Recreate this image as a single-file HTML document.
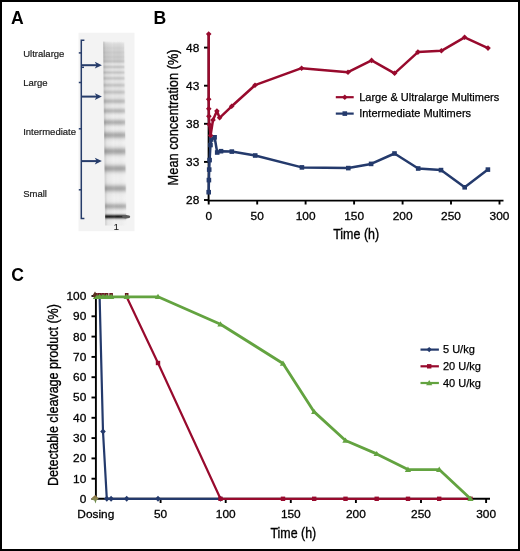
<!DOCTYPE html>
<html><head><meta charset="utf-8"><style>
html,body{margin:0;padding:0;background:#fff;}
body{width:520px;height:551px;overflow:hidden;font-family:"Liberation Sans",sans-serif;}
svg{display:block;will-change:transform;}
</style></head><body>
<svg width="520" height="551" viewBox="0 0 520 551">
<rect x="0" y="0" width="520" height="551" fill="#fff"/>
<text x="11" y="23.8" font-family="Liberation Sans, sans-serif" font-weight="bold" font-size="17.6">A</text>
<rect x="78.5" y="32.7" width="56" height="198.5" fill="#f3f3f3"/>
<defs><linearGradient id="lane" gradientUnits="userSpaceOnUse" x1="0" y1="41.5" x2="0" y2="226">
<stop offset="0.0000" stop-color="#f0f0f0"/>
<stop offset="0.0027" stop-color="#ececec"/>
<stop offset="0.0054" stop-color="#e8e8e8"/>
<stop offset="0.0081" stop-color="#e4e4e4"/>
<stop offset="0.0108" stop-color="#e0e0e0"/>
<stop offset="0.0136" stop-color="#dcdcdc"/>
<stop offset="0.0163" stop-color="#dbdbdb"/>
<stop offset="0.0190" stop-color="#dadada"/>
<stop offset="0.0217" stop-color="#d9d9d9"/>
<stop offset="0.0244" stop-color="#d8d8d8"/>
<stop offset="0.0271" stop-color="#d6d6d6"/>
<stop offset="0.0298" stop-color="#d4d4d4"/>
<stop offset="0.0325" stop-color="#d2d2d2"/>
<stop offset="0.0352" stop-color="#d1d1d1"/>
<stop offset="0.0379" stop-color="#d1d1d1"/>
<stop offset="0.0407" stop-color="#d1d1d1"/>
<stop offset="0.0434" stop-color="#d2d2d2"/>
<stop offset="0.0461" stop-color="#d2d2d2"/>
<stop offset="0.0488" stop-color="#d1d1d1"/>
<stop offset="0.0515" stop-color="#cfcfcf"/>
<stop offset="0.0542" stop-color="#cdcdcd"/>
<stop offset="0.0569" stop-color="#cbcbcb"/>
<stop offset="0.0596" stop-color="#cacaca"/>
<stop offset="0.0623" stop-color="#cbcbcb"/>
<stop offset="0.0650" stop-color="#cccccc"/>
<stop offset="0.0678" stop-color="#cecece"/>
<stop offset="0.0705" stop-color="#cecece"/>
<stop offset="0.0732" stop-color="#cecece"/>
<stop offset="0.0759" stop-color="#cdcdcd"/>
<stop offset="0.0786" stop-color="#cacaca"/>
<stop offset="0.0813" stop-color="#c9c9c9"/>
<stop offset="0.0840" stop-color="#c8c8c8"/>
<stop offset="0.0867" stop-color="#c9c9c9"/>
<stop offset="0.0894" stop-color="#cacaca"/>
<stop offset="0.0921" stop-color="#cccccc"/>
<stop offset="0.0949" stop-color="#cccccc"/>
<stop offset="0.0976" stop-color="#cbcbcb"/>
<stop offset="0.1003" stop-color="#c7c7c7"/>
<stop offset="0.1030" stop-color="#c5c5c5"/>
<stop offset="0.1057" stop-color="#c3c3c3"/>
<stop offset="0.1084" stop-color="#c3c3c3"/>
<stop offset="0.1111" stop-color="#c8c8c8"/>
<stop offset="0.1138" stop-color="#cfcfcf"/>
<stop offset="0.1165" stop-color="#d7d7d7"/>
<stop offset="0.1192" stop-color="#dedede"/>
<stop offset="0.1220" stop-color="#e2e2e2"/>
<stop offset="0.1247" stop-color="#e2e2e2"/>
<stop offset="0.1274" stop-color="#dedede"/>
<stop offset="0.1301" stop-color="#d8d8d8"/>
<stop offset="0.1328" stop-color="#d1d1d1"/>
<stop offset="0.1355" stop-color="#cacaca"/>
<stop offset="0.1382" stop-color="#c8c8c8"/>
<stop offset="0.1409" stop-color="#cacaca"/>
<stop offset="0.1436" stop-color="#d1d1d1"/>
<stop offset="0.1463" stop-color="#d8d8d8"/>
<stop offset="0.1491" stop-color="#dedede"/>
<stop offset="0.1518" stop-color="#e1e1e1"/>
<stop offset="0.1545" stop-color="#e1e1e1"/>
<stop offset="0.1572" stop-color="#dedede"/>
<stop offset="0.1599" stop-color="#d8d8d8"/>
<stop offset="0.1626" stop-color="#d1d1d1"/>
<stop offset="0.1653" stop-color="#cacaca"/>
<stop offset="0.1680" stop-color="#c8c8c8"/>
<stop offset="0.1707" stop-color="#cacaca"/>
<stop offset="0.1734" stop-color="#d1d1d1"/>
<stop offset="0.1762" stop-color="#d8d8d8"/>
<stop offset="0.1789" stop-color="#dedede"/>
<stop offset="0.1816" stop-color="#e1e1e1"/>
<stop offset="0.1843" stop-color="#e2e2e2"/>
<stop offset="0.1870" stop-color="#dfdfdf"/>
<stop offset="0.1897" stop-color="#dadada"/>
<stop offset="0.1924" stop-color="#d4d4d4"/>
<stop offset="0.1951" stop-color="#cdcdcd"/>
<stop offset="0.1978" stop-color="#c9c9c9"/>
<stop offset="0.2005" stop-color="#c8c8c8"/>
<stop offset="0.2033" stop-color="#cccccc"/>
<stop offset="0.2060" stop-color="#d2d2d2"/>
<stop offset="0.2087" stop-color="#d9d9d9"/>
<stop offset="0.2114" stop-color="#dfdfdf"/>
<stop offset="0.2141" stop-color="#e2e2e2"/>
<stop offset="0.2168" stop-color="#e4e4e4"/>
<stop offset="0.2195" stop-color="#e3e3e3"/>
<stop offset="0.2222" stop-color="#e1e1e1"/>
<stop offset="0.2249" stop-color="#dddddd"/>
<stop offset="0.2276" stop-color="#d7d7d7"/>
<stop offset="0.2304" stop-color="#d0d0d0"/>
<stop offset="0.2331" stop-color="#cacaca"/>
<stop offset="0.2358" stop-color="#c6c6c6"/>
<stop offset="0.2385" stop-color="#c7c7c7"/>
<stop offset="0.2412" stop-color="#cbcbcb"/>
<stop offset="0.2439" stop-color="#d1d1d1"/>
<stop offset="0.2466" stop-color="#d8d8d8"/>
<stop offset="0.2493" stop-color="#dddddd"/>
<stop offset="0.2520" stop-color="#e1e1e1"/>
<stop offset="0.2547" stop-color="#e2e2e2"/>
<stop offset="0.2575" stop-color="#e2e2e2"/>
<stop offset="0.2602" stop-color="#dfdfdf"/>
<stop offset="0.2629" stop-color="#dadada"/>
<stop offset="0.2656" stop-color="#d4d4d4"/>
<stop offset="0.2683" stop-color="#cdcdcd"/>
<stop offset="0.2710" stop-color="#c8c8c8"/>
<stop offset="0.2737" stop-color="#c4c4c4"/>
<stop offset="0.2764" stop-color="#c5c5c5"/>
<stop offset="0.2791" stop-color="#c9c9c9"/>
<stop offset="0.2818" stop-color="#cfcfcf"/>
<stop offset="0.2846" stop-color="#d5d5d5"/>
<stop offset="0.2873" stop-color="#dbdbdb"/>
<stop offset="0.2900" stop-color="#e0e0e0"/>
<stop offset="0.2927" stop-color="#e3e3e3"/>
<stop offset="0.2954" stop-color="#e4e4e4"/>
<stop offset="0.2981" stop-color="#e4e4e4"/>
<stop offset="0.3008" stop-color="#e3e3e3"/>
<stop offset="0.3035" stop-color="#e1e1e1"/>
<stop offset="0.3062" stop-color="#dedede"/>
<stop offset="0.3089" stop-color="#d9d9d9"/>
<stop offset="0.3117" stop-color="#d3d3d3"/>
<stop offset="0.3144" stop-color="#cbcbcb"/>
<stop offset="0.3171" stop-color="#c4c4c4"/>
<stop offset="0.3198" stop-color="#bfbfbf"/>
<stop offset="0.3225" stop-color="#bcbcbc"/>
<stop offset="0.3252" stop-color="#bcbcbc"/>
<stop offset="0.3279" stop-color="#bfbfbf"/>
<stop offset="0.3306" stop-color="#c5c5c5"/>
<stop offset="0.3333" stop-color="#cdcdcd"/>
<stop offset="0.3360" stop-color="#d5d5d5"/>
<stop offset="0.3388" stop-color="#dcdcdc"/>
<stop offset="0.3415" stop-color="#e1e1e1"/>
<stop offset="0.3442" stop-color="#e5e5e5"/>
<stop offset="0.3469" stop-color="#e7e7e7"/>
<stop offset="0.3496" stop-color="#e8e8e8"/>
<stop offset="0.3523" stop-color="#e7e7e7"/>
<stop offset="0.3550" stop-color="#e5e5e5"/>
<stop offset="0.3577" stop-color="#e1e1e1"/>
<stop offset="0.3604" stop-color="#dbdbdb"/>
<stop offset="0.3631" stop-color="#d4d4d4"/>
<stop offset="0.3659" stop-color="#cdcdcd"/>
<stop offset="0.3686" stop-color="#c5c5c5"/>
<stop offset="0.3713" stop-color="#bfbfbf"/>
<stop offset="0.3740" stop-color="#bbbbbb"/>
<stop offset="0.3767" stop-color="#bababa"/>
<stop offset="0.3794" stop-color="#bcbcbc"/>
<stop offset="0.3821" stop-color="#c2c2c2"/>
<stop offset="0.3848" stop-color="#c9c9c9"/>
<stop offset="0.3875" stop-color="#d1d1d1"/>
<stop offset="0.3902" stop-color="#d9d9d9"/>
<stop offset="0.3930" stop-color="#e0e0e0"/>
<stop offset="0.3957" stop-color="#e5e5e5"/>
<stop offset="0.3984" stop-color="#e9e9e9"/>
<stop offset="0.4011" stop-color="#ececec"/>
<stop offset="0.4038" stop-color="#ededed"/>
<stop offset="0.4065" stop-color="#ededed"/>
<stop offset="0.4092" stop-color="#ececec"/>
<stop offset="0.4119" stop-color="#eaeaea"/>
<stop offset="0.4146" stop-color="#e7e7e7"/>
<stop offset="0.4173" stop-color="#e2e2e2"/>
<stop offset="0.4201" stop-color="#dcdcdc"/>
<stop offset="0.4228" stop-color="#d4d4d4"/>
<stop offset="0.4255" stop-color="#cccccc"/>
<stop offset="0.4282" stop-color="#c4c4c4"/>
<stop offset="0.4309" stop-color="#bcbcbc"/>
<stop offset="0.4336" stop-color="#b6b6b6"/>
<stop offset="0.4363" stop-color="#b3b3b3"/>
<stop offset="0.4390" stop-color="#b2b2b2"/>
<stop offset="0.4417" stop-color="#b5b5b5"/>
<stop offset="0.4444" stop-color="#bbbbbb"/>
<stop offset="0.4472" stop-color="#c2c2c2"/>
<stop offset="0.4499" stop-color="#cacaca"/>
<stop offset="0.4526" stop-color="#d3d3d3"/>
<stop offset="0.4553" stop-color="#dadada"/>
<stop offset="0.4580" stop-color="#e1e1e1"/>
<stop offset="0.4607" stop-color="#e6e6e6"/>
<stop offset="0.4634" stop-color="#e9e9e9"/>
<stop offset="0.4661" stop-color="#ececec"/>
<stop offset="0.4688" stop-color="#ededed"/>
<stop offset="0.4715" stop-color="#ededed"/>
<stop offset="0.4743" stop-color="#ececec"/>
<stop offset="0.4770" stop-color="#eaeaea"/>
<stop offset="0.4797" stop-color="#e7e7e7"/>
<stop offset="0.4824" stop-color="#e3e3e3"/>
<stop offset="0.4851" stop-color="#dedede"/>
<stop offset="0.4878" stop-color="#d8d8d8"/>
<stop offset="0.4905" stop-color="#d0d0d0"/>
<stop offset="0.4932" stop-color="#c8c8c8"/>
<stop offset="0.4959" stop-color="#c0c0c0"/>
<stop offset="0.4986" stop-color="#b9b9b9"/>
<stop offset="0.5014" stop-color="#b2b2b2"/>
<stop offset="0.5041" stop-color="#aeaeae"/>
<stop offset="0.5068" stop-color="#acacac"/>
<stop offset="0.5095" stop-color="#adadad"/>
<stop offset="0.5122" stop-color="#b0b0b0"/>
<stop offset="0.5149" stop-color="#b6b6b6"/>
<stop offset="0.5176" stop-color="#bdbdbd"/>
<stop offset="0.5203" stop-color="#c5c5c5"/>
<stop offset="0.5230" stop-color="#cdcdcd"/>
<stop offset="0.5257" stop-color="#d5d5d5"/>
<stop offset="0.5285" stop-color="#dcdcdc"/>
<stop offset="0.5312" stop-color="#e2e2e2"/>
<stop offset="0.5339" stop-color="#e6e6e6"/>
<stop offset="0.5366" stop-color="#e9e9e9"/>
<stop offset="0.5393" stop-color="#ececec"/>
<stop offset="0.5420" stop-color="#ededed"/>
<stop offset="0.5447" stop-color="#eeeeee"/>
<stop offset="0.5474" stop-color="#efefef"/>
<stop offset="0.5501" stop-color="#efefef"/>
<stop offset="0.5528" stop-color="#efefef"/>
<stop offset="0.5556" stop-color="#eeeeee"/>
<stop offset="0.5583" stop-color="#ededed"/>
<stop offset="0.5610" stop-color="#ebebeb"/>
<stop offset="0.5637" stop-color="#e9e9e9"/>
<stop offset="0.5664" stop-color="#e6e6e6"/>
<stop offset="0.5691" stop-color="#e1e1e1"/>
<stop offset="0.5718" stop-color="#dcdcdc"/>
<stop offset="0.5745" stop-color="#d5d5d5"/>
<stop offset="0.5772" stop-color="#cecece"/>
<stop offset="0.5799" stop-color="#c6c6c6"/>
<stop offset="0.5827" stop-color="#bebebe"/>
<stop offset="0.5854" stop-color="#b6b6b6"/>
<stop offset="0.5881" stop-color="#b0b0b0"/>
<stop offset="0.5908" stop-color="#ababab"/>
<stop offset="0.5935" stop-color="#a8a8a8"/>
<stop offset="0.5962" stop-color="#a8a8a8"/>
<stop offset="0.5989" stop-color="#aaaaaa"/>
<stop offset="0.6016" stop-color="#afafaf"/>
<stop offset="0.6043" stop-color="#b5b5b5"/>
<stop offset="0.6070" stop-color="#bcbcbc"/>
<stop offset="0.6098" stop-color="#c4c4c4"/>
<stop offset="0.6125" stop-color="#cccccc"/>
<stop offset="0.6152" stop-color="#d4d4d4"/>
<stop offset="0.6179" stop-color="#dbdbdb"/>
<stop offset="0.6206" stop-color="#e0e0e0"/>
<stop offset="0.6233" stop-color="#e5e5e5"/>
<stop offset="0.6260" stop-color="#e8e8e8"/>
<stop offset="0.6287" stop-color="#ebebeb"/>
<stop offset="0.6314" stop-color="#ededed"/>
<stop offset="0.6341" stop-color="#eeeeee"/>
<stop offset="0.6369" stop-color="#efefef"/>
<stop offset="0.6396" stop-color="#efefef"/>
<stop offset="0.6423" stop-color="#efefef"/>
<stop offset="0.6450" stop-color="#efefef"/>
<stop offset="0.6477" stop-color="#eeeeee"/>
<stop offset="0.6504" stop-color="#ededed"/>
<stop offset="0.6531" stop-color="#ececec"/>
<stop offset="0.6558" stop-color="#eaeaea"/>
<stop offset="0.6585" stop-color="#e7e7e7"/>
<stop offset="0.6612" stop-color="#e3e3e3"/>
<stop offset="0.6640" stop-color="#dedede"/>
<stop offset="0.6667" stop-color="#d8d8d8"/>
<stop offset="0.6694" stop-color="#d1d1d1"/>
<stop offset="0.6721" stop-color="#c9c9c9"/>
<stop offset="0.6748" stop-color="#c1c1c1"/>
<stop offset="0.6775" stop-color="#b9b9b9"/>
<stop offset="0.6802" stop-color="#b2b2b2"/>
<stop offset="0.6829" stop-color="#adadad"/>
<stop offset="0.6856" stop-color="#a9a9a9"/>
<stop offset="0.6883" stop-color="#a8a8a8"/>
<stop offset="0.6911" stop-color="#a9a9a9"/>
<stop offset="0.6938" stop-color="#adadad"/>
<stop offset="0.6965" stop-color="#b2b2b2"/>
<stop offset="0.6992" stop-color="#b9b9b9"/>
<stop offset="0.7019" stop-color="#c1c1c1"/>
<stop offset="0.7046" stop-color="#c9c9c9"/>
<stop offset="0.7073" stop-color="#d1d1d1"/>
<stop offset="0.7100" stop-color="#d8d8d8"/>
<stop offset="0.7127" stop-color="#dedede"/>
<stop offset="0.7154" stop-color="#e3e3e3"/>
<stop offset="0.7182" stop-color="#e7e7e7"/>
<stop offset="0.7209" stop-color="#eaeaea"/>
<stop offset="0.7236" stop-color="#ececec"/>
<stop offset="0.7263" stop-color="#eeeeee"/>
<stop offset="0.7290" stop-color="#eeeeee"/>
<stop offset="0.7317" stop-color="#efefef"/>
<stop offset="0.7344" stop-color="#efefef"/>
<stop offset="0.7371" stop-color="#f0f0f0"/>
<stop offset="0.7398" stop-color="#f0f0f0"/>
<stop offset="0.7425" stop-color="#f0f0f0"/>
<stop offset="0.7453" stop-color="#f0f0f0"/>
<stop offset="0.7480" stop-color="#f0f0f0"/>
<stop offset="0.7507" stop-color="#f0f0f0"/>
<stop offset="0.7534" stop-color="#efefef"/>
<stop offset="0.7561" stop-color="#efefef"/>
<stop offset="0.7588" stop-color="#eeeeee"/>
<stop offset="0.7615" stop-color="#ededed"/>
<stop offset="0.7642" stop-color="#ebebeb"/>
<stop offset="0.7669" stop-color="#e8e8e8"/>
<stop offset="0.7696" stop-color="#e4e4e4"/>
<stop offset="0.7724" stop-color="#dfdfdf"/>
<stop offset="0.7751" stop-color="#d9d9d9"/>
<stop offset="0.7778" stop-color="#d2d2d2"/>
<stop offset="0.7805" stop-color="#cacaca"/>
<stop offset="0.7832" stop-color="#c2c2c2"/>
<stop offset="0.7859" stop-color="#bababa"/>
<stop offset="0.7886" stop-color="#b3b3b3"/>
<stop offset="0.7913" stop-color="#aeaeae"/>
<stop offset="0.7940" stop-color="#ababab"/>
<stop offset="0.7967" stop-color="#aaaaaa"/>
<stop offset="0.7995" stop-color="#acacac"/>
<stop offset="0.8022" stop-color="#b0b0b0"/>
<stop offset="0.8049" stop-color="#b6b6b6"/>
<stop offset="0.8076" stop-color="#bdbdbd"/>
<stop offset="0.8103" stop-color="#c6c6c6"/>
<stop offset="0.8130" stop-color="#cecece"/>
<stop offset="0.8157" stop-color="#d5d5d5"/>
<stop offset="0.8184" stop-color="#dcdcdc"/>
<stop offset="0.8211" stop-color="#e1e1e1"/>
<stop offset="0.8238" stop-color="#e6e6e6"/>
<stop offset="0.8266" stop-color="#e9e9e9"/>
<stop offset="0.8293" stop-color="#ececec"/>
<stop offset="0.8320" stop-color="#ededed"/>
<stop offset="0.8347" stop-color="#eeeeee"/>
<stop offset="0.8374" stop-color="#efefef"/>
<stop offset="0.8401" stop-color="#efefef"/>
<stop offset="0.8428" stop-color="#f0f0f0"/>
<stop offset="0.8455" stop-color="#f0f0f0"/>
<stop offset="0.8482" stop-color="#f0f0f0"/>
<stop offset="0.8509" stop-color="#f0f0f0"/>
<stop offset="0.8537" stop-color="#f0f0f0"/>
<stop offset="0.8564" stop-color="#efefef"/>
<stop offset="0.8591" stop-color="#efefef"/>
<stop offset="0.8618" stop-color="#eeeeee"/>
<stop offset="0.8645" stop-color="#ececec"/>
<stop offset="0.8672" stop-color="#eaeaea"/>
<stop offset="0.8699" stop-color="#e7e7e7"/>
<stop offset="0.8726" stop-color="#e2e2e2"/>
<stop offset="0.8753" stop-color="#dbdbdb"/>
<stop offset="0.8780" stop-color="#d4d4d4"/>
<stop offset="0.8808" stop-color="#cbcbcb"/>
<stop offset="0.8835" stop-color="#c2c2c2"/>
<stop offset="0.8862" stop-color="#bababa"/>
<stop offset="0.8889" stop-color="#b4b4b4"/>
<stop offset="0.8916" stop-color="#b1b1b1"/>
<stop offset="0.8943" stop-color="#b0b0b0"/>
<stop offset="0.8970" stop-color="#b3b3b3"/>
<stop offset="0.8997" stop-color="#b9b9b9"/>
<stop offset="0.9024" stop-color="#c1c1c1"/>
<stop offset="0.9051" stop-color="#c9c9c9"/>
<stop offset="0.9079" stop-color="#d2d2d2"/>
<stop offset="0.9106" stop-color="#dadada"/>
<stop offset="0.9133" stop-color="#e0e0e0"/>
<stop offset="0.9160" stop-color="#e6e6e6"/>
<stop offset="0.9187" stop-color="#e9e9e9"/>
<stop offset="0.9214" stop-color="#ececec"/>
<stop offset="0.9241" stop-color="#ececec"/>
<stop offset="0.9268" stop-color="#ebebeb"/>
<stop offset="0.9295" stop-color="#e6e6e6"/>
<stop offset="0.9322" stop-color="#dbdbdb"/>
<stop offset="0.9350" stop-color="#c7c7c7"/>
<stop offset="0.9377" stop-color="#a8a8a8"/>
<stop offset="0.9404" stop-color="#808080"/>
<stop offset="0.9431" stop-color="#565656"/>
<stop offset="0.9458" stop-color="#343434"/>
<stop offset="0.9485" stop-color="#232323"/>
<stop offset="0.9512" stop-color="#2b2b2b"/>
<stop offset="0.9539" stop-color="#474747"/>
<stop offset="0.9566" stop-color="#6f6f6f"/>
<stop offset="0.9593" stop-color="#999999"/>
<stop offset="0.9621" stop-color="#bcbcbc"/>
<stop offset="0.9648" stop-color="#d4d4d4"/>
<stop offset="0.9675" stop-color="#e3e3e3"/>
<stop offset="0.9702" stop-color="#eaeaea"/>
<stop offset="0.9729" stop-color="#eeeeee"/>
<stop offset="0.9756" stop-color="#efefef"/>
<stop offset="0.9783" stop-color="#f0f0f0"/>
<stop offset="0.9810" stop-color="#f0f0f0"/>
<stop offset="0.9837" stop-color="#f0f0f0"/>
<stop offset="0.9864" stop-color="#f0f0f0"/>
<stop offset="0.9892" stop-color="#f0f0f0"/>
<stop offset="0.9919" stop-color="#f0f0f0"/>
<stop offset="0.9946" stop-color="#f0f0f0"/>
<stop offset="0.9973" stop-color="#f0f0f0"/>
<stop offset="1.0000" stop-color="#f0f0f0"/>
</linearGradient>
<linearGradient id="laneh" x1="0" y1="0" x2="1" y2="0"><stop offset="0" stop-color="#000" stop-opacity="0.16"/><stop offset="0.12" stop-color="#000" stop-opacity="0.04"/><stop offset="0.45" stop-color="#fff" stop-opacity="0.05"/><stop offset="0.6" stop-color="#000" stop-opacity="0.0"/><stop offset="0.9" stop-color="#fff" stop-opacity="0.05"/><stop offset="1" stop-color="#fff" stop-opacity="0.15"/></linearGradient>
<filter id="blur1" x="-20%" y="-5%" width="140%" height="110%"><feGaussianBlur stdDeviation="0.7 0.3"/></filter>
</defs>
<g filter="url(#blur1)" transform="matrix(1 0 0.0114 1 -0.473 0)"><rect x="103.2" y="41.5" width="21" height="184" fill="url(#lane)"/><rect x="103.2" y="41.5" width="21" height="184" fill="url(#laneh)"/></g>
<ellipse cx="126.2" cy="216.7" rx="4" ry="1.7" fill="#5a5a5a" filter="url(#blur1)"/>
<g stroke="#263c6a" stroke-width="1.5" fill="none">
<path d="M84.4 40.3 H81.3 V218.5 H84.4"/>
<path d="M81.3 67.3 H84"/>
<path d="M78.8 52.9 H81.3"/>
<path d="M78.8 82.5 H81.3"/>
<path d="M78.8 128.8 H81.3"/>
<path d="M78.8 189.8 H81.3"/>
</g>
<path d="M81.3 65.2 H98" stroke="#263c6a" stroke-width="2"/>
<path d="M101.9 65.2 L94.8 61.800000000000004 L96.6 65.2 L94.8 68.60000000000001 Z" fill="#263c6a"/>
<path d="M81.3 96.6 H98" stroke="#263c6a" stroke-width="2"/>
<path d="M101.9 96.6 L94.8 93.19999999999999 L96.6 96.6 L94.8 100.0 Z" fill="#263c6a"/>
<path d="M81.3 161.1 H98" stroke="#263c6a" stroke-width="2"/>
<path d="M101.9 161.1 L94.8 157.7 L96.6 161.1 L94.8 164.5 Z" fill="#263c6a"/>
<text x="23.2" y="57.2" font-family="Liberation Sans, sans-serif" font-size="9.5" fill="#1a1a1a" stroke="#1a1a1a" stroke-width="0.2">Ultralarge</text>
<text x="23.2" y="86" font-family="Liberation Sans, sans-serif" font-size="9.5" fill="#1a1a1a" stroke="#1a1a1a" stroke-width="0.2">Large</text>
<text x="23.2" y="134.9" font-family="Liberation Sans, sans-serif" font-size="9.5" fill="#1a1a1a" stroke="#1a1a1a" stroke-width="0.2">Intermediate</text>
<text x="23.2" y="197.4" font-family="Liberation Sans, sans-serif" font-size="9.5" fill="#1a1a1a" stroke="#1a1a1a" stroke-width="0.2">Small</text>
<text x="116.4" y="230.4" font-family="Liberation Sans, sans-serif" font-size="9.2" text-anchor="middle" fill="#222" stroke="#222" stroke-width="0.2">1</text>
<text x="153.4" y="23.8" font-family="Liberation Sans, sans-serif" font-weight="bold" font-size="17.6">B</text>
<g stroke="#000" stroke-width="1.9" fill="none">
<path d="M208.6 34 V200.6 H503.5"/>
<path d="M204 200.0 H208.6"/>
<path d="M204 161.9 H208.6"/>
<path d="M204 123.8 H208.6"/>
<path d="M204 85.7 H208.6"/>
<path d="M204 47.6 H208.6"/>
<path d="M208.7 200 V204.5"/>
<path d="M257.2 200 V204.5"/>
<path d="M305.6 200 V204.5"/>
<path d="M354.1 200 V204.5"/>
<path d="M402.6 200 V204.5"/>
<path d="M451.0 200 V204.5"/>
<path d="M499.5 200 V204.5"/>
</g>
<text transform="translate(199.3 203.9) scale(1.08 1)" font-family="Liberation Sans, sans-serif" font-size="11" text-anchor="end" stroke="#000" stroke-width="0.28">28</text>
<text transform="translate(199.3 165.8) scale(1.08 1)" font-family="Liberation Sans, sans-serif" font-size="11" text-anchor="end" stroke="#000" stroke-width="0.28">33</text>
<text transform="translate(199.3 127.7) scale(1.08 1)" font-family="Liberation Sans, sans-serif" font-size="11" text-anchor="end" stroke="#000" stroke-width="0.28">38</text>
<text transform="translate(199.3 89.6) scale(1.08 1)" font-family="Liberation Sans, sans-serif" font-size="11" text-anchor="end" stroke="#000" stroke-width="0.28">43</text>
<text transform="translate(199.3 51.5) scale(1.08 1)" font-family="Liberation Sans, sans-serif" font-size="11" text-anchor="end" stroke="#000" stroke-width="0.28">48</text>
<text transform="translate(208.7 220.4) scale(1.08 1)" font-family="Liberation Sans, sans-serif" font-size="11" text-anchor="middle" stroke="#000" stroke-width="0.28">0</text>
<text transform="translate(257.2 220.4) scale(1.08 1)" font-family="Liberation Sans, sans-serif" font-size="11" text-anchor="middle" stroke="#000" stroke-width="0.28">50</text>
<text transform="translate(305.6 220.4) scale(1.08 1)" font-family="Liberation Sans, sans-serif" font-size="11" text-anchor="middle" stroke="#000" stroke-width="0.28">100</text>
<text transform="translate(354.1 220.4) scale(1.08 1)" font-family="Liberation Sans, sans-serif" font-size="11" text-anchor="middle" stroke="#000" stroke-width="0.28">150</text>
<text transform="translate(402.6 220.4) scale(1.08 1)" font-family="Liberation Sans, sans-serif" font-size="11" text-anchor="middle" stroke="#000" stroke-width="0.28">200</text>
<text transform="translate(451.0 220.4) scale(1.08 1)" font-family="Liberation Sans, sans-serif" font-size="11" text-anchor="middle" stroke="#000" stroke-width="0.28">250</text>
<text transform="translate(499.5 220.4) scale(1.08 1)" font-family="Liberation Sans, sans-serif" font-size="11" text-anchor="middle" stroke="#000" stroke-width="0.28">300</text>
<text x="333.2" y="239.3" font-family="Liberation Sans, sans-serif" font-size="14.5" stroke="#000" stroke-width="0.35" textLength="46" lengthAdjust="spacingAndGlyphs">Time (h)</text>
<text transform="translate(177.7 185.4) rotate(-90)" font-family="Liberation Sans, sans-serif" font-size="14" stroke="#000" stroke-width="0.35" textLength="136" lengthAdjust="spacingAndGlyphs">Mean concentration (%)</text>
<polyline points="208.7,192.2 208.9,180.1 209.2,169.6 209.6,160.1 210.5,145.0 211.2,139.5 214.6,137.3 217.2,152.5 221.0,151.2 231.8,151.6 255.2,155.5 301.9,167.4 348.3,168.1 371.1,163.9 394.5,153.5 418.2,168.5 441.0,170.1 464.7,187.3 487.9,169.6" fill="none" stroke="#243a6c" stroke-width="2.5" stroke-linejoin="round"/>
<rect x="206.4" y="189.9" width="4.6" height="4.6" fill="#243a6c"/>
<rect x="206.6" y="177.8" width="4.6" height="4.6" fill="#243a6c"/>
<rect x="206.9" y="167.3" width="4.6" height="4.6" fill="#243a6c"/>
<rect x="207.3" y="157.8" width="4.6" height="4.6" fill="#243a6c"/>
<rect x="208.2" y="142.7" width="4.6" height="4.6" fill="#243a6c"/>
<rect x="208.9" y="137.2" width="4.6" height="4.6" fill="#243a6c"/>
<rect x="212.3" y="135.0" width="4.6" height="4.6" fill="#243a6c"/>
<rect x="214.9" y="150.2" width="4.6" height="4.6" fill="#243a6c"/>
<rect x="218.7" y="148.9" width="4.6" height="4.6" fill="#243a6c"/>
<rect x="229.5" y="149.3" width="4.6" height="4.6" fill="#243a6c"/>
<rect x="252.9" y="153.2" width="4.6" height="4.6" fill="#243a6c"/>
<rect x="299.6" y="165.1" width="4.6" height="4.6" fill="#243a6c"/>
<rect x="346.0" y="165.8" width="4.6" height="4.6" fill="#243a6c"/>
<rect x="368.8" y="161.6" width="4.6" height="4.6" fill="#243a6c"/>
<rect x="392.2" y="151.2" width="4.6" height="4.6" fill="#243a6c"/>
<rect x="415.9" y="166.2" width="4.6" height="4.6" fill="#243a6c"/>
<rect x="438.7" y="167.8" width="4.6" height="4.6" fill="#243a6c"/>
<rect x="462.4" y="185.0" width="4.6" height="4.6" fill="#243a6c"/>
<rect x="485.6" y="167.3" width="4.6" height="4.6" fill="#243a6c"/>
<polyline points="208.7,34.0 208.7,99.2 208.8,108.7 208.9,116.2 209.2,124.5 210.6,135.4 213.0,120.0 216.9,111.0 219.6,117.8 231.7,106.3 255.0,85.2 301.6,68.2 348.0,72.2 371.6,60.4 394.6,73.3 417.9,52.1 441.4,50.8 464.6,37.3 488.0,48.1" fill="none" stroke="#980a2d" stroke-width="2.5" stroke-linejoin="round"/>
<path d="M208.7 31.2 L211.5 34.0 L208.7 36.8 L205.9 34.0 Z" fill="#980a2d"/>
<path d="M208.7 96.4 L211.5 99.2 L208.7 102.0 L205.9 99.2 Z" fill="#980a2d"/>
<path d="M208.8 105.9 L211.6 108.7 L208.8 111.5 L206.0 108.7 Z" fill="#980a2d"/>
<path d="M208.9 113.4 L211.7 116.2 L208.9 119.0 L206.1 116.2 Z" fill="#980a2d"/>
<path d="M209.2 121.7 L212.0 124.5 L209.2 127.3 L206.4 124.5 Z" fill="#980a2d"/>
<path d="M210.6 132.6 L213.4 135.4 L210.6 138.2 L207.8 135.4 Z" fill="#980a2d"/>
<path d="M213.0 117.2 L215.8 120.0 L213.0 122.8 L210.2 120.0 Z" fill="#980a2d"/>
<path d="M216.9 108.2 L219.7 111.0 L216.9 113.8 L214.1 111.0 Z" fill="#980a2d"/>
<path d="M219.6 115.0 L222.4 117.8 L219.6 120.6 L216.8 117.8 Z" fill="#980a2d"/>
<path d="M231.7 103.5 L234.5 106.3 L231.7 109.1 L228.9 106.3 Z" fill="#980a2d"/>
<path d="M255.0 82.4 L257.8 85.2 L255.0 88.0 L252.2 85.2 Z" fill="#980a2d"/>
<path d="M301.6 65.4 L304.4 68.2 L301.6 71.0 L298.8 68.2 Z" fill="#980a2d"/>
<path d="M348.0 69.4 L350.8 72.2 L348.0 75.0 L345.2 72.2 Z" fill="#980a2d"/>
<path d="M371.6 57.6 L374.4 60.4 L371.6 63.2 L368.8 60.4 Z" fill="#980a2d"/>
<path d="M394.6 70.5 L397.4 73.3 L394.6 76.1 L391.8 73.3 Z" fill="#980a2d"/>
<path d="M417.9 49.3 L420.7 52.1 L417.9 54.9 L415.1 52.1 Z" fill="#980a2d"/>
<path d="M441.4 48.0 L444.2 50.8 L441.4 53.6 L438.6 50.8 Z" fill="#980a2d"/>
<path d="M464.6 34.5 L467.4 37.3 L464.6 40.1 L461.8 37.3 Z" fill="#980a2d"/>
<path d="M488.0 45.3 L490.8 48.1 L488.0 50.9 L485.2 48.1 Z" fill="#980a2d"/>
<path d="M335.8 97.2 H353.7" stroke="#980a2d" stroke-width="2.2"/>
<path d="M344.8 94.4 L347.6 97.2 L344.8 100 L342 97.2 Z" fill="#980a2d"/>
<path d="M335.8 113.6 H353.7" stroke="#243a6c" stroke-width="2.2"/>
<rect x="342.5" y="111.3" width="4.6" height="4.6" fill="#243a6c"/>
<text x="359.2" y="100.8" font-family="Liberation Sans, sans-serif" font-size="11" stroke="#000" stroke-width="0.25" textLength="140" lengthAdjust="spacingAndGlyphs">Large &amp; Ultralarge Multimers</text>
<text x="359.2" y="117.3" font-family="Liberation Sans, sans-serif" font-size="11" stroke="#000" stroke-width="0.25">Intermediate Multimers</text>
<text x="11.3" y="280.8" font-family="Liberation Sans, sans-serif" font-weight="bold" font-size="17.6">C</text>
<g stroke="#000" stroke-width="1.9" fill="none">
<path d="M95.9 296 V498.8 H490"/>
<path d="M91.5 499.0 H95.9"/>
<path d="M91.5 478.7 H95.9"/>
<path d="M91.5 458.4 H95.9"/>
<path d="M91.5 438.1 H95.9"/>
<path d="M91.5 417.8 H95.9"/>
<path d="M91.5 397.5 H95.9"/>
<path d="M91.5 377.2 H95.9"/>
<path d="M91.5 356.9 H95.9"/>
<path d="M91.5 336.6 H95.9"/>
<path d="M91.5 316.3 H95.9"/>
<path d="M91.5 296.0 H95.9"/>
<path d="M160.6 498.8 V503"/>
<path d="M225.7 498.8 V503"/>
<path d="M290.8 498.8 V503"/>
<path d="M355.9 498.8 V503"/>
<path d="M421.0 498.8 V503"/>
<path d="M486.1 498.8 V503"/>
</g>
<text transform="translate(86.3 502.9) scale(1.08 1)" font-family="Liberation Sans, sans-serif" font-size="11" text-anchor="end" stroke="#000" stroke-width="0.28">0</text>
<text transform="translate(86.3 482.6) scale(1.08 1)" font-family="Liberation Sans, sans-serif" font-size="11" text-anchor="end" stroke="#000" stroke-width="0.28">10</text>
<text transform="translate(86.3 462.3) scale(1.08 1)" font-family="Liberation Sans, sans-serif" font-size="11" text-anchor="end" stroke="#000" stroke-width="0.28">20</text>
<text transform="translate(86.3 442.0) scale(1.08 1)" font-family="Liberation Sans, sans-serif" font-size="11" text-anchor="end" stroke="#000" stroke-width="0.28">30</text>
<text transform="translate(86.3 421.7) scale(1.08 1)" font-family="Liberation Sans, sans-serif" font-size="11" text-anchor="end" stroke="#000" stroke-width="0.28">40</text>
<text transform="translate(86.3 401.4) scale(1.08 1)" font-family="Liberation Sans, sans-serif" font-size="11" text-anchor="end" stroke="#000" stroke-width="0.28">50</text>
<text transform="translate(86.3 381.1) scale(1.08 1)" font-family="Liberation Sans, sans-serif" font-size="11" text-anchor="end" stroke="#000" stroke-width="0.28">60</text>
<text transform="translate(86.3 360.8) scale(1.08 1)" font-family="Liberation Sans, sans-serif" font-size="11" text-anchor="end" stroke="#000" stroke-width="0.28">70</text>
<text transform="translate(86.3 340.5) scale(1.08 1)" font-family="Liberation Sans, sans-serif" font-size="11" text-anchor="end" stroke="#000" stroke-width="0.28">80</text>
<text transform="translate(86.3 320.2) scale(1.08 1)" font-family="Liberation Sans, sans-serif" font-size="11" text-anchor="end" stroke="#000" stroke-width="0.28">90</text>
<text transform="translate(86.3 299.9) scale(1.08 1)" font-family="Liberation Sans, sans-serif" font-size="11" text-anchor="end" stroke="#000" stroke-width="0.28">100</text>
<text transform="translate(95.8 518.2) scale(1.08 1)" font-family="Liberation Sans, sans-serif" font-size="11" text-anchor="middle" stroke="#000" stroke-width="0.28">Dosing</text>
<text transform="translate(160.6 518.2) scale(1.08 1)" font-family="Liberation Sans, sans-serif" font-size="11" text-anchor="middle" stroke="#000" stroke-width="0.28">50</text>
<text transform="translate(225.7 518.2) scale(1.08 1)" font-family="Liberation Sans, sans-serif" font-size="11" text-anchor="middle" stroke="#000" stroke-width="0.28">100</text>
<text transform="translate(290.8 518.2) scale(1.08 1)" font-family="Liberation Sans, sans-serif" font-size="11" text-anchor="middle" stroke="#000" stroke-width="0.28">150</text>
<text transform="translate(355.9 518.2) scale(1.08 1)" font-family="Liberation Sans, sans-serif" font-size="11" text-anchor="middle" stroke="#000" stroke-width="0.28">200</text>
<text transform="translate(421.0 518.2) scale(1.08 1)" font-family="Liberation Sans, sans-serif" font-size="11" text-anchor="middle" stroke="#000" stroke-width="0.28">250</text>
<text transform="translate(486.1 518.2) scale(1.08 1)" font-family="Liberation Sans, sans-serif" font-size="11" text-anchor="middle" stroke="#000" stroke-width="0.28">300</text>
<text x="270.5" y="537.7" font-family="Liberation Sans, sans-serif" font-size="14.5" stroke="#000" stroke-width="0.35" textLength="45.7" lengthAdjust="spacingAndGlyphs">Time (h)</text>
<text transform="translate(58.2 486.1) rotate(-90)" font-family="Liberation Sans, sans-serif" font-size="14.5" stroke="#000" stroke-width="0.35" textLength="182" lengthAdjust="spacingAndGlyphs">Detectable cleavage product (%)</text>
<polyline points="99.6,296.2 103.0,431.5 106.8,498.8 111.1,498.8 126.7,498.8 158.0,498.8 220.5,498.8" fill="none" stroke="#243a6c" stroke-width="2.2" stroke-linejoin="round"/>
<path d="M99.6 293.2 L102.4 296.2 L99.6 299.2 L96.8 296.2 Z" fill="#243a6c"/>
<path d="M103.0 428.5 L105.8 431.5 L103.0 434.5 L100.2 431.5 Z" fill="#243a6c"/>
<path d="M106.8 495.8 L109.6 498.8 L106.8 501.8 L104.0 498.8 Z" fill="#243a6c"/>
<path d="M111.1 495.8 L113.9 498.8 L111.1 501.8 L108.3 498.8 Z" fill="#243a6c"/>
<path d="M126.7 495.8 L129.5 498.8 L126.7 501.8 L123.9 498.8 Z" fill="#243a6c"/>
<path d="M158.0 495.8 L160.8 498.8 L158.0 501.8 L155.2 498.8 Z" fill="#243a6c"/>
<path d="M220.5 495.8 L223.3 498.8 L220.5 501.8 L217.7 498.8 Z" fill="#243a6c"/>
<polyline points="96.0,297.0 99.6,297.0 103.0,297.0 106.6,297.0 111.1,297.0 126.7,297.0 158.0,363.0 220.5,498.8 283.0,498.8 314.2,498.8 345.5,498.8 376.7,498.8 408.0,498.8 439.2,498.8 470.5,498.8" fill="none" stroke="#980a2d" stroke-width="2.2" stroke-linejoin="round"/>
<rect x="94.2" y="293" width="3.6" height="4" fill="#6a1a22"/>
<rect x="97.8" y="293" width="3.6" height="4" fill="#6a1a22"/>
<rect x="101.2" y="293" width="3.6" height="4" fill="#6a1a22"/>
<rect x="104.8" y="293" width="3.6" height="4" fill="#6a1a22"/>
<rect x="109.3" y="293" width="3.6" height="4" fill="#6a1a22"/>
<rect x="124.9" y="293" width="3.6" height="4" fill="#6a1a22"/>
<rect x="155.8" y="360.8" width="4.4" height="4.4" fill="#980a2d"/>
<rect x="218.3" y="496.6" width="4.4" height="4.4" fill="#980a2d"/>
<rect x="280.8" y="496.6" width="4.4" height="4.4" fill="#980a2d"/>
<rect x="312.0" y="496.6" width="4.4" height="4.4" fill="#980a2d"/>
<rect x="343.3" y="496.6" width="4.4" height="4.4" fill="#980a2d"/>
<rect x="374.5" y="496.6" width="4.4" height="4.4" fill="#980a2d"/>
<rect x="405.8" y="496.6" width="4.4" height="4.4" fill="#980a2d"/>
<rect x="437.0" y="496.6" width="4.4" height="4.4" fill="#980a2d"/>
<rect x="468.3" y="496.6" width="4.4" height="4.4" fill="#980a2d"/>
<polyline points="96.0,296.8 99.6,296.8 103.0,296.8 106.6,296.8 111.1,296.8 126.7,296.8 158.0,296.8 220.5,324.2 283.0,363.5 314.2,411.9 345.5,440.5 376.7,453.9 408.0,469.6 439.2,469.6 470.5,498.8" fill="none" stroke="#63a340" stroke-width="2.8" stroke-linejoin="round"/>
<path d="M96.0 293.8 L99.2 299.1 L92.8 299.1 Z" fill="#63a340"/>
<path d="M99.6 293.8 L102.8 299.1 L96.4 299.1 Z" fill="#63a340"/>
<path d="M103.0 293.8 L106.2 299.1 L99.8 299.1 Z" fill="#63a340"/>
<path d="M106.6 293.8 L109.8 299.1 L103.4 299.1 Z" fill="#63a340"/>
<path d="M111.1 293.8 L114.3 299.1 L108.0 299.1 Z" fill="#63a340"/>
<path d="M126.7 293.8 L129.9 299.1 L123.6 299.1 Z" fill="#63a340"/>
<path d="M158.0 293.8 L161.1 299.1 L154.8 299.1 Z" fill="#63a340"/>
<path d="M220.5 321.2 L223.6 326.4 L217.3 326.4 Z" fill="#63a340"/>
<path d="M283.0 360.5 L286.1 365.8 L279.8 365.8 Z" fill="#63a340"/>
<path d="M314.2 408.9 L317.4 414.1 L311.1 414.1 Z" fill="#63a340"/>
<path d="M345.5 437.5 L348.6 442.8 L342.3 442.8 Z" fill="#63a340"/>
<path d="M376.7 450.9 L379.9 456.1 L373.6 456.1 Z" fill="#63a340"/>
<path d="M408.0 466.6 L411.1 471.9 L404.8 471.9 Z" fill="#63a340"/>
<path d="M439.2 466.6 L442.4 471.9 L436.1 471.9 Z" fill="#63a340"/>
<path d="M470.5 495.8 L473.6 501.1 L467.3 501.1 Z" fill="#63a340"/>
<path d="M95 291.6 L97 294.8 L94.6 297.6 L92 296.2 Z" fill="#5a3020"/>
<defs><linearGradient id="om" x1="0" y1="0" x2="0" y2="1"><stop offset="0" stop-color="#8a6a3a"/><stop offset="0.45" stop-color="#8f8a55"/><stop offset="1" stop-color="#4f8a3a"/></linearGradient></defs>
<path d="M95.3 495 L98.6 498.4 L96.4 500.4 L95.6 503.6 L94.4 500.6 L91.4 499.6 L92.2 497.4 Z" fill="url(#om)"/>
<path d="M420.5 349.6 H438.9" stroke="#243a6c" stroke-width="2.2"/>
<path d="M429.2 347.0 L431.8 349.6 L429.2 352.2 L426.6 349.6 Z" fill="#243a6c"/>
<text x="443" y="353.3" font-family="Liberation Sans, sans-serif" font-size="11" stroke="#000" stroke-width="0.25">5 U/kg</text>
<path d="M420.5 366.3 H438.9" stroke="#980a2d" stroke-width="2.2"/>
<rect x="427" y="364.1" width="4.4" height="4.4" fill="#980a2d"/>
<text x="443" y="370.0" font-family="Liberation Sans, sans-serif" font-size="11" stroke="#000" stroke-width="0.25">20 U/kg</text>
<path d="M420.5 383.0 H438.9" stroke="#63a340" stroke-width="2.2"/>
<path d="M429.2 380.0 L432.3 385.2 L426.1 385.2 Z" fill="#63a340"/>
<text x="443" y="386.7" font-family="Liberation Sans, sans-serif" font-size="11" stroke="#000" stroke-width="0.25">40 U/kg</text>
<rect x="1" y="1" width="518" height="549" fill="none" stroke="#000" stroke-width="2"/>
</svg>
</body></html>
